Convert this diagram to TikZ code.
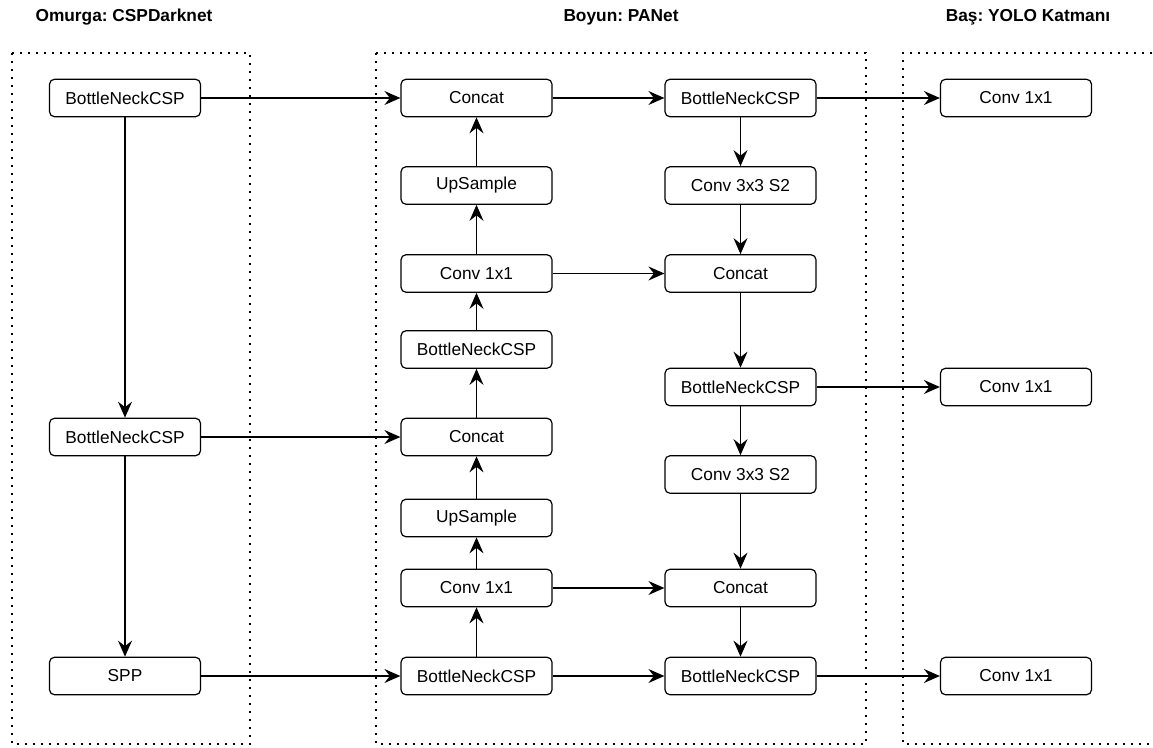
\documentclass[tikz,border=0pt]{standalone}
\usepackage{fontspec}
\setmainfont{Liberation Sans}
\frenchspacing
\usetikzlibrary{arrows.meta}
\begin{document}
\begin{tikzpicture}[x=1pt,y=-1pt,
  blk/.style={draw, rounded corners=5pt, line width=1.2pt, minimum width=151pt, minimum height=37.5pt, inner sep=0pt, font=\fontsize{17.3}{20}\selectfont},
  ttl/.style={font=\bfseries\fontsize{17.3}{20}\selectfont, inner sep=0pt},
  arr/.style={line width=1.3pt, -{Stealth[length=16pt,width=14pt,inset=5.5pt]}},
  dots/.style={line width=2.3pt, dash pattern=on 2.3pt off 5.7pt}]
\useasboundingbox (0,0) rectangle (1153,747);
% groups
\draw[dots] (12,53) rectangle (250,744);
\draw[dots] (376,53) rectangle (866,744);
\draw[dots] (1160,53) -- (903,53) -- (903,744) -- (1160,744);
% titles
\node[ttl] (t1) at (124,17) {Omurga: CSPDarknet};
\node[ttl] (t2) at (621,17) {Boyun: PANet};
\node[ttl] (t3) at (1028,17) {Baş: YOLO Katmanı};
% backbone
\node[blk] (b1) at (125,98) {BottleNeckCSP};
\node[blk] (b2) at (125,437) {BottleNeckCSP};
\node[blk] (spp) at (125,676) {SPP};
% neck col 1
\node[blk] (c1) at (476.5,98) {Concat};
\node[blk] (u1) at (476.5,185.5) {UpSample};
\node[blk] (k1) at (476.5,273.5) {Conv 1x1};
\node[blk] (n1) at (476.5,349.5) {BottleNeckCSP};
\node[blk] (c2) at (476.5,437) {Concat};
\node[blk] (u2) at (476.5,518) {UpSample};
\node[blk] (k2) at (476.5,588) {Conv 1x1};
\node[blk] (n2) at (476.5,676) {BottleNeckCSP};
% neck col 2
\node[blk] (p1) at (740.5,98) {BottleNeckCSP};
\node[blk] (s1) at (740.5,185.5) {Conv 3x3 S2};
\node[blk] (q1) at (740.5,273.5) {Concat};
\node[blk] (p2) at (740.5,387) {BottleNeckCSP};
\node[blk] (s2) at (740.5,474.5) {Conv 3x3 S2};
\node[blk] (q2) at (740.5,588) {Concat};
\node[blk] (p3) at (740.5,676) {BottleNeckCSP};
% head
\node[blk] (h1) at (1016,98) {Conv 1x1};
\node[blk] (h2) at (1016,387) {Conv 1x1};
\node[blk] (h3) at (1016,676) {Conv 1x1};
% edges
\draw[arr] (b1) -- (b2);
\draw[arr] (b2) -- (spp);
\draw[arr] (b1) -- (c1);
\draw[arr] (b2) -- (c2);
\draw[arr] (spp) -- (n2);
\draw[arr] (n2) -- (k2);
\draw[arr] (k2) -- (u2);
\draw[arr] (u2) -- (c2);
\draw[arr] (c2) -- (n1);
\draw[arr] (n1) -- (k1);
\draw[arr] (k1) -- (u1);
\draw[arr] (u1) -- (c1);
\draw[arr] (c1) -- (p1);
\draw[arr] (p1) -- (s1);
\draw[arr] (s1) -- (q1);
\draw[arr] (q1) -- (p2);
\draw[arr] (p2) -- (s2);
\draw[arr] (s2) -- (q2);
\draw[arr] (q2) -- (p3);
\draw[arr] (k1) -- (q1);
\draw[arr] (k2) -- (q2);
\draw[arr] (n2) -- (p3);
\draw[arr] (p1) -- (h1);
\draw[arr] (p2) -- (h2);
\draw[arr] (p3) -- (h3);
\end{tikzpicture}
\end{document}
